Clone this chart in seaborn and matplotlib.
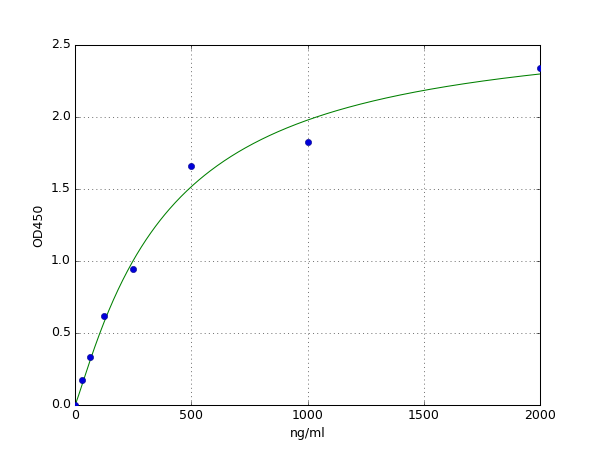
import numpy as np
import pandas as pd
import matplotlib
matplotlib.use("Agg")
import matplotlib.pyplot as plt
import seaborn as sns

# Standard points (concentration ng/ml, OD450)
conc = [0, 31.25, 62.5, 125, 250, 500, 1000, 2000]
od450 = [0.0, 0.176, 0.336, 0.618, 0.947, 1.66, 1.826, 2.342]

# Fitted curve parameters: y = top / (1 + (ec50/x)^hill)
fit_top = 2.66
fit_ec50 = 390.0
fit_hill = 1.132

x_ticks = [0, 500, 1000, 1500, 2000]
y_ticks = [0.0, 0.5, 1.0, 1.5, 2.0, 2.5]

plt.style.use("classic")
fig = plt.figure(figsize=(8, 6), dpi=75, facecolor="white")
ax = fig.add_axes([0.125, 0.1, 0.775, 0.8])
ax.set_facecolor("white")

xs = np.linspace(0, 2000, 400)
with np.errstate(divide="ignore"):
    ys = fit_top / (1 + (fit_ec50 / np.where(xs == 0, 1e-9, xs)) ** fit_hill)
curve = pd.DataFrame({"x": xs, "y": ys})
pts = pd.DataFrame({"x": conc, "y": od450})

sns.lineplot(data=curve, x="x", y="y", ax=ax, color=(0, 0.5, 0), linewidth=1.0, zorder=2)
sns.scatterplot(data=pts, x="x", y="y", ax=ax, color=(0, 0, 0.85), edgecolor=(0, 0, 0.5),
                s=36, linewidth=0.5, zorder=3, clip_on=True)

ax.set_xlim(0, 2000)
ax.set_ylim(0, 2.5)
ax.set_xticks(x_ticks)
ax.set_yticks(y_ticks)
ax.set_xticklabels([str(t) for t in x_ticks])
ax.set_yticklabels([f"{t:.1f}" for t in y_ticks])
ax.grid(True, color="black", linestyle=":", linewidth=0.5)
ax.set_axisbelow(True)
ax.set_xlabel("ng/ml", fontsize=12)
ax.set_ylabel("OD450", fontsize=12)
ax.tick_params(labelsize=12, direction="in", top=True, right=True)

fig.savefig("out.png", dpi=75, facecolor="white")
